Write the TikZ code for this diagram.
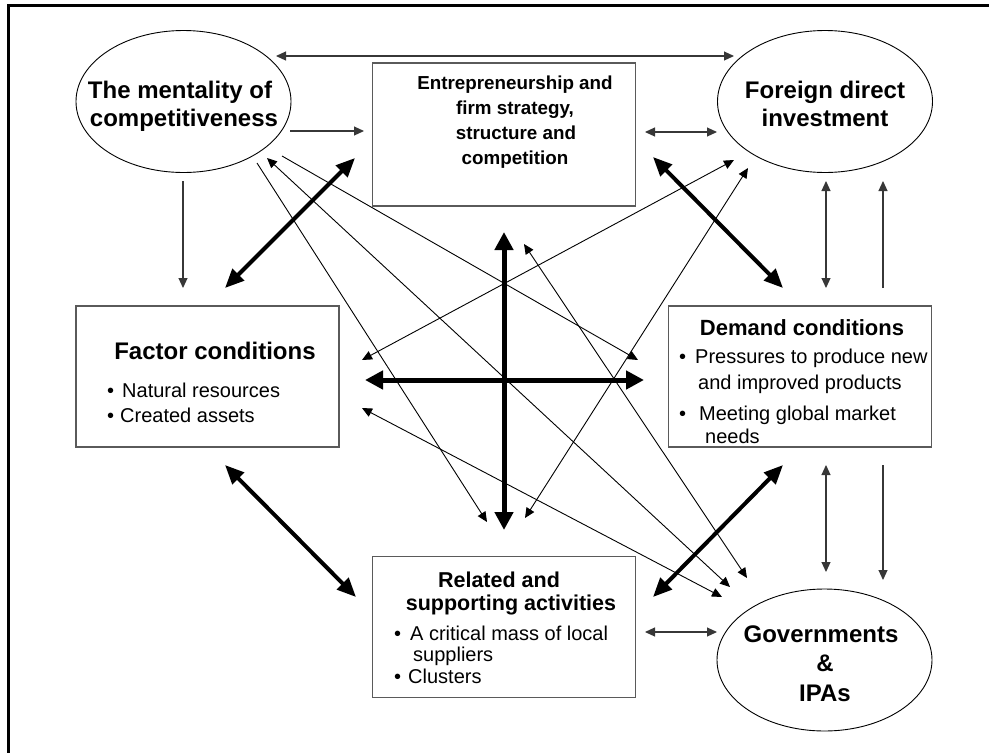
\documentclass[tikz,border=0pt]{standalone}
\usepackage{fontspec}
\setmainfont{Liberation Sans}
\usetikzlibrary{arrows.meta,shapes.geometric}
\definecolor{boxgray}{RGB}{90,90,90}
\definecolor{lngray}{RGB}{55,55,55}
\begin{document}
\begin{tikzpicture}[x=1pt,y=-1pt,
  box/.style={draw=boxgray, line width=1.4pt, minimum width=263pt, minimum height=141pt, inner sep=0pt},
  oval/.style={ellipse, draw=black, line width=0.9pt, minimum width=215pt, minimum height=142pt, inner sep=0pt},
  ovaltxt/.style={font=\fontsize{24}{28}\selectfont\bfseries, inner sep=0pt, anchor=base},
  entxt/.style={font=\fontsize{18.8}{25}\selectfont\bfseries, inner sep=0pt, anchor=base},
  boxttl/.style={font=\fontsize{21.5}{25}\selectfont\bfseries, inner sep=0pt, anchor=base},
  bul/.style={font=\fontsize{20}{24}\selectfont, inner sep=0pt, anchor=base west},
  tip/.tip={Triangle[length=10pt,width=9pt]},
  bigtip/.tip={Triangle[length=19pt,width=16pt]},
  crosstip/.tip={Triangle[length=18pt,width=18pt]},
  thinone/.style={line width=1.1pt, draw=lngray, -tip},
  thintwo/.style={line width=1.1pt, draw=lngray, tip-tip},
  diagone/.style={line width=0.9pt, draw=black, -tip},
  diagtwo/.style={line width=0.9pt, draw=black, tip-tip},
  thicktwo/.style={line width=4pt, draw=black, bigtip-bigtip},
  crosstwo/.style={line width=5pt, draw=black, crosstip-crosstip}]
\useasboundingbox (0,0) rectangle (989,753);
% frame
\draw[line width=3pt] (8,753) -- (8,5) -- (989,5);

% nodes
\node[oval] (ment) at (183.5,101.5) {};
\node[oval] (fdi) at (825,101.5) {};
\node[oval] (gov) at (824.5,660) {};
\node[box, minimum height=143pt] (ent) at (504,134.5) {};
\node[box] (fac) at (207.5,376.5) {};
\node[box] (dem) at (800,376.5) {};
\node[box] (rel) at (504,627) {};

% texts
\node[ovaltxt] (ment1) at (180,98) {The mentality of};
\node[ovaltxt] (ment2) at (184,126) {competitiveness};
\node[ovaltxt] (fdi1) at (825,98) {Foreign direct};
\node[ovaltxt] (fdi2) at (825,126) {investment};
\node[ovaltxt] (gov1) at (821,642) {Governments};
\node[ovaltxt] (gov2) at (825,671) {\&};
\node[ovaltxt] (gov3) at (825,701) {IPAs};

\node[entxt] (ent1) at (515,89) {Entrepreneurship and};
\node[entxt] (ent2) at (515,114) {firm strategy,};
\node[entxt] (ent3) at (516,139.5) {structure and};
\node[entxt] (ent4) at (515,164) {competition};

\node[ovaltxt] (fac0) at (215,359) {Factor conditions};
\node[bul] (fac1) at (107,397) {\textbullet\hspace{8pt}Natural resources};
\node[bul] (fac2) at (107,422) {\textbullet\hspace{6pt}Created assets};

\node[boxttl, font=\fontsize{22}{25}\selectfont\bfseries] (dem0) at (802,335) {Demand conditions};
\node[bul] (dem1) at (679,363) {\textbullet\hspace{9pt}Pressures to produce new};
\node[bul] (dem2) at (698,389) {and improved products};
\node[bul] (dem3) at (679,420) {\textbullet\hspace{13pt}Meeting global market};
\node[bul] (dem4) at (705,443) {needs};

\node[boxttl] (rel1) at (499,587) {Related and};
\node[boxttl] (rel2) at (511,610) {supporting activities};
\node[bul] (rel3) at (394,640) {\textbullet\hspace{9pt}A critical mass of local};
\node[bul] (rel4) at (413,661) {suppliers};
\node[bul] (rel5) at (394,683) {\textbullet\hspace{7pt}Clusters};

% connector end points
\coordinate (mTop) at (276,56);   \coordinate (fTop) at (734,56);
\coordinate (mE) at (290,131);    \coordinate (eM) at (364,131);
\coordinate (eF) at (645,132);    \coordinate (fE) at (717,132);
\coordinate (mF) at (183,181);    \coordinate (faM) at (183,288);
\coordinate (faE) at (225,288);   \coordinate (eFa) at (355,158);
\coordinate (eD) at (653,157);    \coordinate (dE) at (783,288);
\coordinate (fD) at (826,181);    \coordinate (dF) at (826,288);
\coordinate (dF2) at (883,288);   \coordinate (fD2) at (883,181);
\coordinate (dG) at (826,465);    \coordinate (gD) at (826,572);
\coordinate (dG2) at (883,465);   \coordinate (gD2) at (883,580);
\coordinate (dR) at (783,465);    \coordinate (rD) at (653,597);
\coordinate (faR) at (225,465);   \coordinate (rFa) at (356,597);
\coordinate (rG) at (645,632);    \coordinate (gR) at (717,632);
\coordinate (cT) at (504,232);    \coordinate (cB) at (504,530);
\coordinate (cL) at (365,380);    \coordinate (cR) at (644,380);
\coordinate (mR) at (257,163);    \coordinate (rM) at (487,522);
\coordinate (mG) at (267,158);    \coordinate (gM) at (730,587);
\coordinate (mD) at (282,156);    \coordinate (dM) at (638,360);
\coordinate (eG) at (524,244);    \coordinate (gE) at (747,578);
\coordinate (faG) at (362,408);   \coordinate (gFa) at (722,597);
\coordinate (faF) at (362,360);   \coordinate (fFa) at (734,160);
\coordinate (rF) at (525,518);    \coordinate (fR) at (748,168);

% thin straight connectors
\draw[thintwo] (mTop) -- (fTop);
\draw[thinone] (mE) -- (eM);
\draw[thintwo] (eF) -- (fE);
\draw[thinone] (mF) -- (faM);
\draw[thintwo] (fD) -- (dF);
\draw[thinone] (dF2) -- (fD2);
\draw[thintwo] (dG) -- (gD);
\draw[thinone] (dG2) -- (gD2);
\draw[thintwo] (rG) -- (gR);

% thin diagonals
\draw[diagone] (mR) -- (rM);
\draw[diagtwo] (mG) -- (gM);
\draw[diagone] (mD) -- (dM);
\draw[diagtwo] (eG) -- (gE);
\draw[diagtwo] (faG) -- (gFa);
\draw[diagtwo] (faF) -- (fFa);
\draw[diagtwo] (rF) -- (fR);

% thick connectors
\draw[thicktwo] (faE) -- (eFa);
\draw[thicktwo] (eD) -- (dE);
\draw[thicktwo] (dR) -- (rD);
\draw[thicktwo] (faR) -- (rFa);
\draw[crosstwo] (cT) -- (cB);
\draw[crosstwo] (cL) -- (cR);
\end{tikzpicture}
\end{document}
